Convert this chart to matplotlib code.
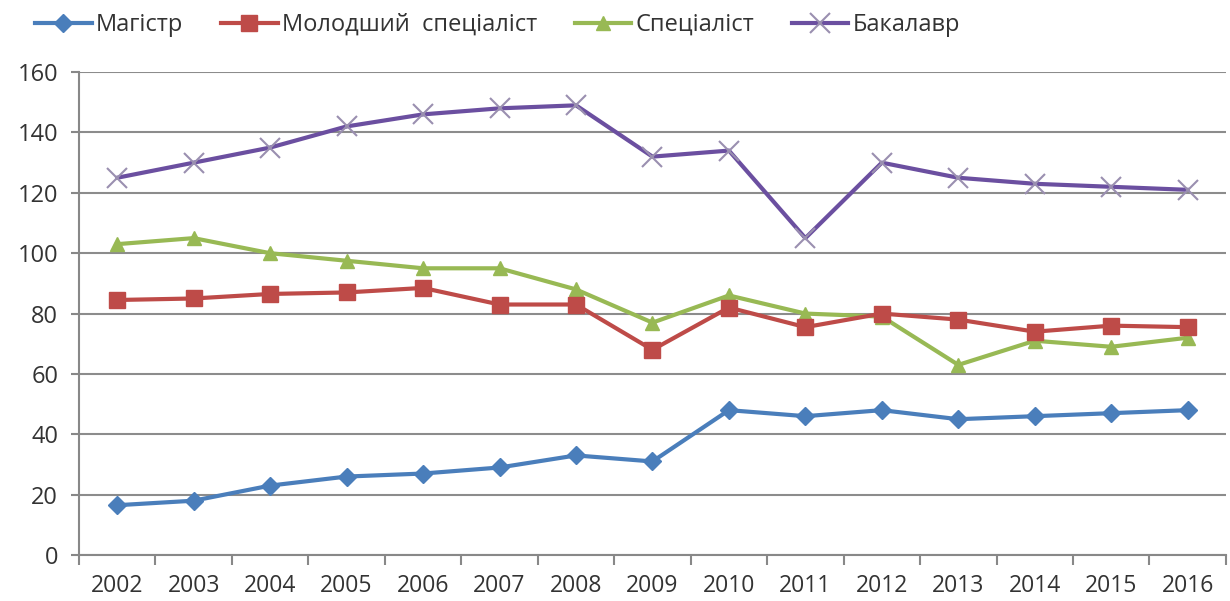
import numpy as np
import matplotlib.pyplot as plt
from matplotlib.ticker import FixedLocator

# data
years = list(range(2002, 2017))
magistr = [16.5, 18, 23, 26, 27, 29, 33, 31, 48, 46, 48, 45, 46, 47, 48]
molodshyi = [84.5, 85, 86.5, 87, 88.5, 83, 83, 68, 82, 75.5, 80, 78, 74, 76, 75.5]
spetsialist = [103, 105, 100, 97.5, 95, 95, 88, 77, 86, 80, 79, 63, 71, 69, 72]
bakalavr = [125, 130, 135, 142, 146, 148, 149, 132, 134, 105, 130, 125, 123, 122, 121]

labels = ['Магістр', 'Молодший  спеціаліст', 'Спеціаліст', 'Бакалавр']


def main():
    plt.rcParams['font.family'] = ['Open Sans', 'DejaVu Sans']
    plt.rcParams['text.color'] = '#333333'
    fig = plt.figure(figsize=(12.3, 6.01), dpi=100)
    ax = fig.add_axes([0.0642, 0.0765, 0.9325, 0.8035])

    ax.plot(years, magistr, color='#4A7EBB', lw=3, marker='D', ms=9,
            label=labels[0], zorder=5)
    ax.plot(years, molodshyi, color='#BE4B48', lw=3, marker='s', ms=11,
            label=labels[1], zorder=4)
    ax.plot(years, spetsialist, color='#98B954', lw=3, marker='^', ms=10,
            label=labels[2], zorder=3)
    ax.plot(years, bakalavr, color='#6B4FA0', lw=3, marker='x', ms=15,
            mew=1.5, mec='#9A8FB0', label=labels[3], zorder=2)

    ax.set_xlim(2001.5, 2016.5)
    ax.set_ylim(0, 160)
    ax.set_yticks(range(0, 161, 20))
    ax.set_xticks(years)
    ax.xaxis.set_minor_locator(FixedLocator(np.arange(2001.5, 2017, 1)))
    ax.tick_params(axis='x', which='major', length=0, pad=14, labelsize=16.5,
                   labelcolor='#333333')
    ax.tick_params(axis='x', which='minor', length=7, width=1.5, color='#888888')
    ax.tick_params(axis='y', length=6, width=1.5, color='#888888', labelsize=17,
                   pad=9, labelcolor='#333333')

    ax.grid(axis='y', color='#8c8c8c', lw=1.5)
    ax.set_axisbelow(True)
    for s in ['top', 'right']:
        ax.spines[s].set_visible(False)
    for s in ['left', 'bottom']:
        ax.spines[s].set_color('#888888')
        ax.spines[s].set_linewidth(1.5)

    fig.legend(loc='center left', bbox_to_anchor=(35 / 1230, 1 - 25 / 601), ncol=4,
               frameon=False, fontsize=17, borderpad=0, borderaxespad=0,
               handlelength=2.4, handletextpad=0.17, columnspacing=1.6)

    fig.savefig('out.png', dpi=100)


if __name__ == '__main__':
    main()
